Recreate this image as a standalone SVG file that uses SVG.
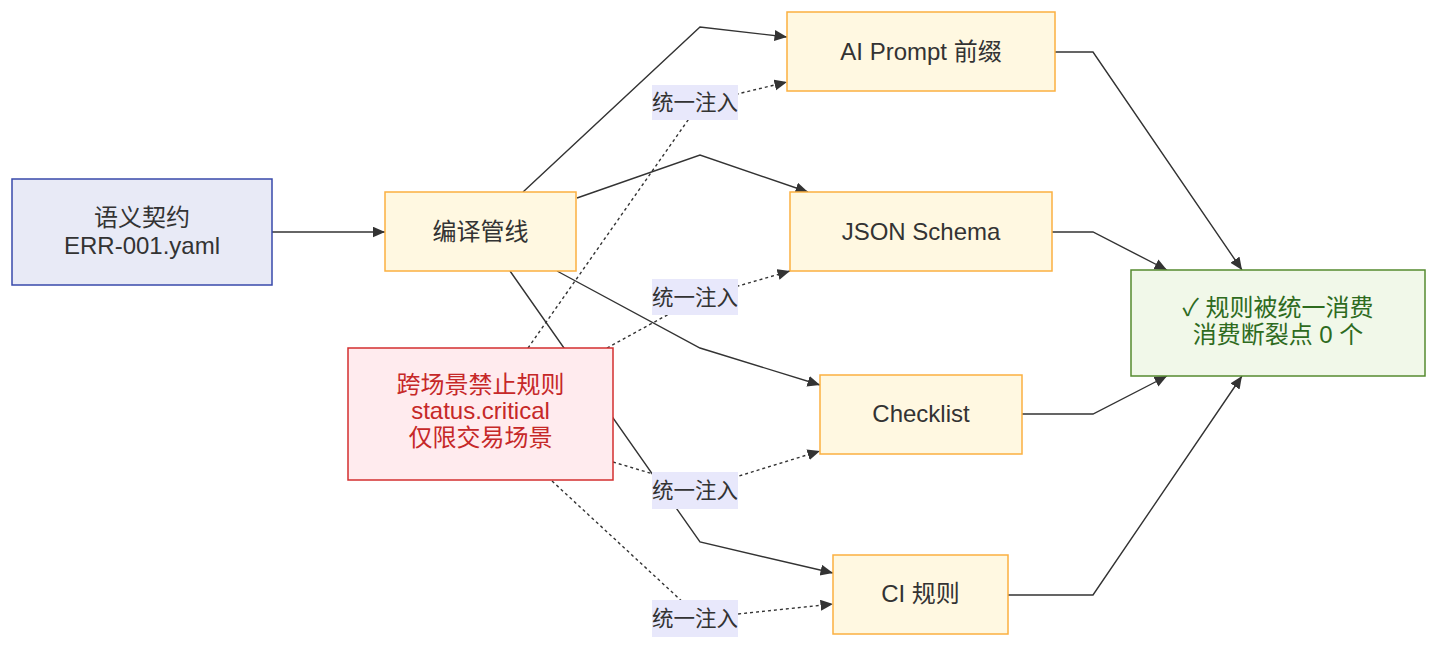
<svg xmlns="http://www.w3.org/2000/svg" width="1438" height="652" viewBox="0 0 1438 652">
<style>
text{font-family:"Liberation Sans","Noto Sans CJK SC",sans-serif;text-anchor:middle}
.n{font-size:24px;fill:#333}
.e{fill:none;stroke:#333;stroke-width:1.4}
.d{fill:none;stroke:#333;stroke-width:1.4;stroke-dasharray:3,3}
.lb{fill:#e8e8fb}
.lt{font-size:21.5px;fill:#333}
.o{fill:#fff8e1;stroke:#fbb040;stroke-width:1.5}
</style>
<defs>
<marker id="ah" markerUnits="userSpaceOnUse" markerWidth="14" markerHeight="12" refX="12.5" refY="5.5" orient="auto">
<path d="M0,0 L12.5,5.5 L0,11 z" fill="#333"/>
</marker>
</defs>
<rect width="1438" height="652" fill="#fff"/>
<g id="connectors">
<path class="e" d="M272,232 L385,232" marker-end="url(#ah)"/>
<path class="e" d="M523,192 L700,27 L787,37" marker-end="url(#ah)"/>
<path class="e" d="M577,198 L700,155 L808,192" marker-end="url(#ah)"/>
<path class="e" d="M557,271 L700,348 L820,385" marker-end="url(#ah)"/>
<path class="e" d="M510,271 L700,542 L833,573" marker-end="url(#ah)"/>
<path class="e" d="M1055,52 L1093,52 L1242,270" marker-end="url(#ah)"/>
<path class="e" d="M1052,232 L1093,232 L1167,270" marker-end="url(#ah)"/>
<path class="e" d="M1022,414 L1093,414 L1167,376" marker-end="url(#ah)"/>
<path class="e" d="M1008,595 L1093,595 L1242,376" marker-end="url(#ah)"/>
<path class="d" d="M528,348 L700,103 L787,82" marker-end="url(#ah)"/>
<path class="d" d="M607,348 L700,297 L790,271" marker-end="url(#ah)"/>
<path class="d" d="M613,462 L700,488 L820,451" marker-end="url(#ah)"/>
<path class="d" d="M552,481 L700,618 L833,604" marker-end="url(#ah)"/>
<rect class="lb" x="652" y="85" width="86" height="35"/>
<text class="lt" x="695" y="110">统一注入</text>
<rect class="lb" x="652" y="279" width="86" height="36"/>
<text class="lt" x="695" y="305">统一注入</text>
<rect class="lb" x="652" y="472" width="86" height="37"/>
<text class="lt" x="695" y="498">统一注入</text>
<rect class="lb" x="652" y="600" width="86" height="37"/>
<text class="lt" x="695" y="626">统一注入</text>
</g>
<g id="contract">
<rect x="12" y="179" width="260" height="106" fill="#e8eaf6" stroke="#3949ab" stroke-width="1.5"/>
<text class="n" x="142" y="226">语义契约</text>
<text class="n" x="142" y="254">ERR-001.yaml</text>
</g>
<g id="pipeline">
<rect class="o" x="385" y="192" width="191" height="79"/>
<text class="n" x="480.5" y="240">编译管线</text>
</g>
<g id="prompt">
<rect class="o" x="787" y="12" width="268" height="79"/>
<text class="n" x="921" y="60">AI Prompt 前缀</text>
</g>
<g id="schema">
<rect class="o" x="790" y="192" width="262" height="79"/>
<text class="n" x="921" y="240">JSON Schema</text>
</g>
<g id="checklist">
<rect class="o" x="820" y="375" width="202" height="79"/>
<text class="n" x="921" y="422">Checklist</text>
</g>
<g id="ci">
<rect class="o" x="833" y="555" width="175" height="79"/>
<text class="n" x="920.5" y="602">CI 规则</text>
</g>
<g id="rule">
<rect x="348" y="348" width="265" height="132" fill="#ffebee" stroke="#d32f2f" stroke-width="1.5"/>
<text class="n" x="480.5" y="393" style="fill:#c62828">跨场景禁止规则</text>
<text class="n" x="480.5" y="419" style="fill:#c62828">status.critical</text>
<text class="n" x="480.5" y="446" style="fill:#c62828">仅限交易场景</text>
</g>
<g id="result">
<rect x="1131" y="270" width="294" height="106" fill="#f1f8e9" stroke="#558b2f" stroke-width="1.5"/>
<text class="n" x="1278" y="316" style="fill:#2e6b1e">✓ 规则被统一消费</text>
<text class="n" x="1278" y="343" style="fill:#2e6b1e">消费断裂点 0 个</text>
</g>
</svg>
